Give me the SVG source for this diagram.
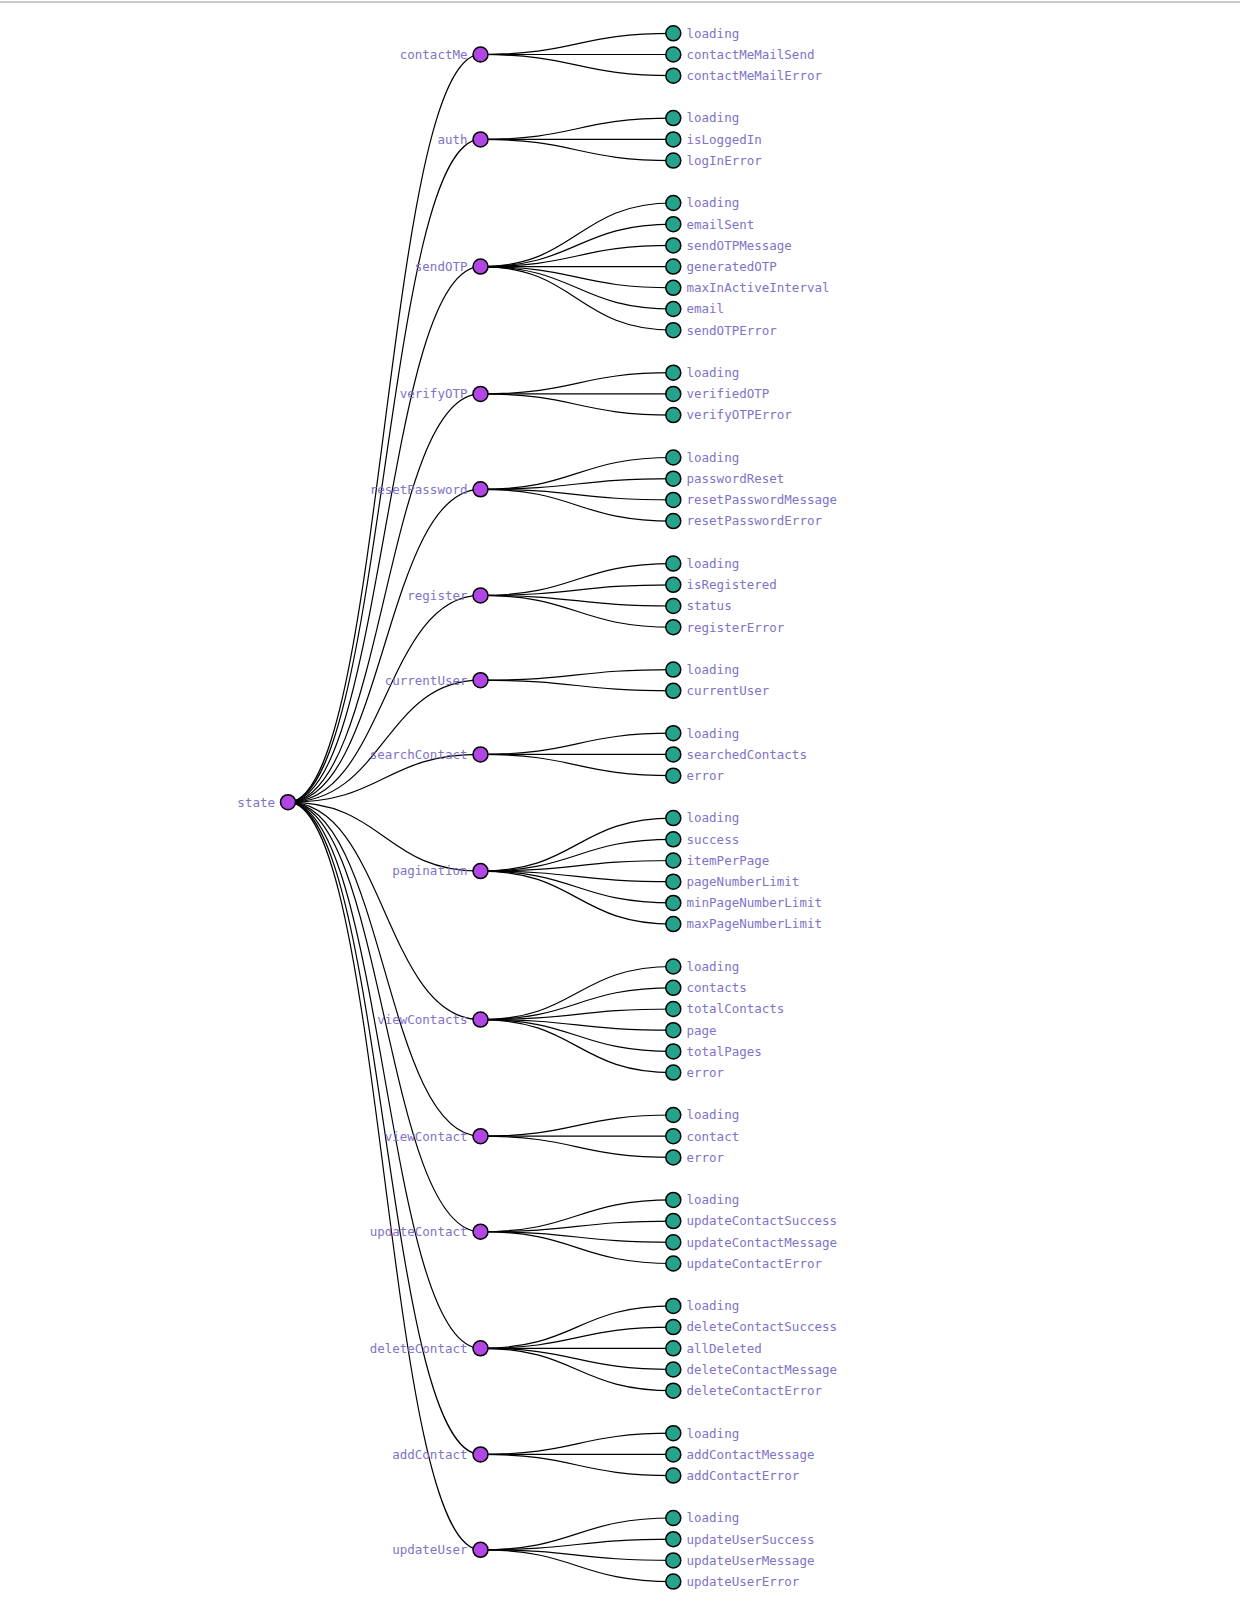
<svg xmlns="http://www.w3.org/2000/svg" width="1240" height="1621" viewBox="0 0 1240 1621">
<style>
.link{fill:none;stroke:#000;stroke-width:1.2}
.inner circle{fill:#b146e4;stroke:#000;stroke-width:1.5}
.leaf circle{fill:#26a38c;stroke:#000;stroke-width:1.5}
text{font-family:"DejaVu Sans Mono","Liberation Mono",monospace;font-size:12.5px;fill:#7f72c8}
.inner text{text-anchor:end}
</style>
<rect width="1240" height="1621" fill="#fff"/>
<rect x="0" y="1" width="1240" height="2" fill="#c8c8c8"/>
<g id="links">
<path class="link" d="M288,802.2C384.25,802.2 384.25,54.5 480.5,54.5"/>
<path class="link" d="M288,802.2C384.25,802.2 384.25,139.4 480.5,139.4"/>
<path class="link" d="M288,802.2C384.25,802.2 384.25,266.6 480.5,266.6"/>
<path class="link" d="M288,802.2C384.25,802.2 384.25,393.9 480.5,393.9"/>
<path class="link" d="M288,802.2C384.25,802.2 384.25,489.3 480.5,489.3"/>
<path class="link" d="M288,802.2C384.25,802.2 384.25,595.4 480.5,595.4"/>
<path class="link" d="M288,802.2C384.25,802.2 384.25,680.2 480.5,680.2"/>
<path class="link" d="M288,802.2C384.25,802.2 384.25,754.4 480.5,754.4"/>
<path class="link" d="M288,802.2C384.25,802.2 384.25,871.1 480.5,871.1"/>
<path class="link" d="M288,802.2C384.25,802.2 384.25,1019.6 480.5,1019.6"/>
<path class="link" d="M288,802.2C384.25,802.2 384.25,1136.2 480.5,1136.2"/>
<path class="link" d="M288,802.2C384.25,802.2 384.25,1231.7 480.5,1231.7"/>
<path class="link" d="M288,802.2C384.25,802.2 384.25,1348.3 480.5,1348.3"/>
<path class="link" d="M288,802.2C384.25,802.2 384.25,1454.4 480.5,1454.4"/>
<path class="link" d="M288,802.2C384.25,802.2 384.25,1549.8 480.5,1549.8"/>
<path class="link" d="M480.5,54.5C576.9,54.5 576.9,33.3 673.3,33.3"/>
<path class="link" d="M480.5,54.5C576.9,54.5 576.9,54.5 673.3,54.5"/>
<path class="link" d="M480.5,54.5C576.9,54.5 576.9,75.7 673.3,75.7"/>
<path class="link" d="M480.5,139.4C576.9,139.4 576.9,118.1 673.3,118.1"/>
<path class="link" d="M480.5,139.4C576.9,139.4 576.9,139.4 673.3,139.4"/>
<path class="link" d="M480.5,139.4C576.9,139.4 576.9,160.6 673.3,160.6"/>
<path class="link" d="M480.5,266.6C576.9,266.6 576.9,203 673.3,203"/>
<path class="link" d="M480.5,266.6C576.9,266.6 576.9,224.2 673.3,224.2"/>
<path class="link" d="M480.5,266.6C576.9,266.6 576.9,245.4 673.3,245.4"/>
<path class="link" d="M480.5,266.6C576.9,266.6 576.9,266.6 673.3,266.6"/>
<path class="link" d="M480.5,266.6C576.9,266.6 576.9,287.8 673.3,287.8"/>
<path class="link" d="M480.5,266.6C576.9,266.6 576.9,309 673.3,309"/>
<path class="link" d="M480.5,266.6C576.9,266.6 576.9,330.2 673.3,330.2"/>
<path class="link" d="M480.5,393.9C576.9,393.9 576.9,372.7 673.3,372.7"/>
<path class="link" d="M480.5,393.9C576.9,393.9 576.9,393.9 673.3,393.9"/>
<path class="link" d="M480.5,393.9C576.9,393.9 576.9,415.1 673.3,415.1"/>
<path class="link" d="M480.5,489.3C576.9,489.3 576.9,457.5 673.3,457.5"/>
<path class="link" d="M480.5,489.3C576.9,489.3 576.9,478.7 673.3,478.7"/>
<path class="link" d="M480.5,489.3C576.9,489.3 576.9,499.9 673.3,499.9"/>
<path class="link" d="M480.5,489.3C576.9,489.3 576.9,521.1 673.3,521.1"/>
<path class="link" d="M480.5,595.4C576.9,595.4 576.9,563.6 673.3,563.6"/>
<path class="link" d="M480.5,595.4C576.9,595.4 576.9,584.8 673.3,584.8"/>
<path class="link" d="M480.5,595.4C576.9,595.4 576.9,606 673.3,606"/>
<path class="link" d="M480.5,595.4C576.9,595.4 576.9,627.2 673.3,627.2"/>
<path class="link" d="M480.5,680.2C576.9,680.2 576.9,669.6 673.3,669.6"/>
<path class="link" d="M480.5,680.2C576.9,680.2 576.9,690.8 673.3,690.8"/>
<path class="link" d="M480.5,754.4C576.9,754.4 576.9,733.2 673.3,733.2"/>
<path class="link" d="M480.5,754.4C576.9,754.4 576.9,754.4 673.3,754.4"/>
<path class="link" d="M480.5,754.4C576.9,754.4 576.9,775.7 673.3,775.7"/>
<path class="link" d="M480.5,871.1C576.9,871.1 576.9,818.1 673.3,818.1"/>
<path class="link" d="M480.5,871.1C576.9,871.1 576.9,839.3 673.3,839.3"/>
<path class="link" d="M480.5,871.1C576.9,871.1 576.9,860.5 673.3,860.5"/>
<path class="link" d="M480.5,871.1C576.9,871.1 576.9,881.7 673.3,881.7"/>
<path class="link" d="M480.5,871.1C576.9,871.1 576.9,902.9 673.3,902.9"/>
<path class="link" d="M480.5,871.1C576.9,871.1 576.9,924.1 673.3,924.1"/>
<path class="link" d="M480.5,1019.6C576.9,1019.6 576.9,966.5 673.3,966.5"/>
<path class="link" d="M480.5,1019.6C576.9,1019.6 576.9,987.8 673.3,987.8"/>
<path class="link" d="M480.5,1019.6C576.9,1019.6 576.9,1009 673.3,1009"/>
<path class="link" d="M480.5,1019.6C576.9,1019.6 576.9,1030.2 673.3,1030.2"/>
<path class="link" d="M480.5,1019.6C576.9,1019.6 576.9,1051.4 673.3,1051.4"/>
<path class="link" d="M480.5,1019.6C576.9,1019.6 576.9,1072.6 673.3,1072.6"/>
<path class="link" d="M480.5,1136.2C576.9,1136.2 576.9,1115 673.3,1115"/>
<path class="link" d="M480.5,1136.2C576.9,1136.2 576.9,1136.2 673.3,1136.2"/>
<path class="link" d="M480.5,1136.2C576.9,1136.2 576.9,1157.4 673.3,1157.4"/>
<path class="link" d="M480.5,1231.7C576.9,1231.7 576.9,1199.9 673.3,1199.9"/>
<path class="link" d="M480.5,1231.7C576.9,1231.7 576.9,1221.1 673.3,1221.1"/>
<path class="link" d="M480.5,1231.7C576.9,1231.7 576.9,1242.3 673.3,1242.3"/>
<path class="link" d="M480.5,1231.7C576.9,1231.7 576.9,1263.5 673.3,1263.5"/>
<path class="link" d="M480.5,1348.3C576.9,1348.3 576.9,1305.9 673.3,1305.9"/>
<path class="link" d="M480.5,1348.3C576.9,1348.3 576.9,1327.1 673.3,1327.1"/>
<path class="link" d="M480.5,1348.3C576.9,1348.3 576.9,1348.3 673.3,1348.3"/>
<path class="link" d="M480.5,1348.3C576.9,1348.3 576.9,1369.5 673.3,1369.5"/>
<path class="link" d="M480.5,1348.3C576.9,1348.3 576.9,1390.7 673.3,1390.7"/>
<path class="link" d="M480.5,1454.4C576.9,1454.4 576.9,1433.2 673.3,1433.2"/>
<path class="link" d="M480.5,1454.4C576.9,1454.4 576.9,1454.4 673.3,1454.4"/>
<path class="link" d="M480.5,1454.4C576.9,1454.4 576.9,1475.6 673.3,1475.6"/>
<path class="link" d="M480.5,1549.8C576.9,1549.8 576.9,1518 673.3,1518"/>
<path class="link" d="M480.5,1549.8C576.9,1549.8 576.9,1539.2 673.3,1539.2"/>
<path class="link" d="M480.5,1549.8C576.9,1549.8 576.9,1560.4 673.3,1560.4"/>
<path class="link" d="M480.5,1549.8C576.9,1549.8 576.9,1581.6 673.3,1581.6"/>
</g>
<g id="state" class="inner"><circle cx="288" cy="802.2" r="7.5"/><text x="275" y="802.2" dy="0.35em">state</text></g>
<g id="contactMe" class="inner"><circle cx="480.5" cy="54.5" r="7.5"/><text x="467.5" y="54.5" dy="0.35em">contactMe</text></g>
<g id="auth" class="inner"><circle cx="480.5" cy="139.4" r="7.5"/><text x="467.5" y="139.4" dy="0.35em">auth</text></g>
<g id="sendOTP" class="inner"><circle cx="480.5" cy="266.6" r="7.5"/><text x="467.5" y="266.6" dy="0.35em">sendOTP</text></g>
<g id="verifyOTP" class="inner"><circle cx="480.5" cy="393.9" r="7.5"/><text x="467.5" y="393.9" dy="0.35em">verifyOTP</text></g>
<g id="resetPassword" class="inner"><circle cx="480.5" cy="489.3" r="7.5"/><text x="467.5" y="489.3" dy="0.35em">resetPassword</text></g>
<g id="register" class="inner"><circle cx="480.5" cy="595.4" r="7.5"/><text x="467.5" y="595.4" dy="0.35em">register</text></g>
<g id="currentUser" class="inner"><circle cx="480.5" cy="680.2" r="7.5"/><text x="467.5" y="680.2" dy="0.35em">currentUser</text></g>
<g id="searchContact" class="inner"><circle cx="480.5" cy="754.4" r="7.5"/><text x="467.5" y="754.4" dy="0.35em">searchContact</text></g>
<g id="pagination" class="inner"><circle cx="480.5" cy="871.1" r="7.5"/><text x="467.5" y="871.1" dy="0.35em">pagination</text></g>
<g id="viewContacts" class="inner"><circle cx="480.5" cy="1019.6" r="7.5"/><text x="467.5" y="1019.6" dy="0.35em">viewContacts</text></g>
<g id="viewContact" class="inner"><circle cx="480.5" cy="1136.2" r="7.5"/><text x="467.5" y="1136.2" dy="0.35em">viewContact</text></g>
<g id="updateContact" class="inner"><circle cx="480.5" cy="1231.7" r="7.5"/><text x="467.5" y="1231.7" dy="0.35em">updateContact</text></g>
<g id="deleteContact" class="inner"><circle cx="480.5" cy="1348.3" r="7.5"/><text x="467.5" y="1348.3" dy="0.35em">deleteContact</text></g>
<g id="addContact" class="inner"><circle cx="480.5" cy="1454.4" r="7.5"/><text x="467.5" y="1454.4" dy="0.35em">addContact</text></g>
<g id="updateUser" class="inner"><circle cx="480.5" cy="1549.8" r="7.5"/><text x="467.5" y="1549.8" dy="0.35em">updateUser</text></g>
<g id="contactMe-loading" class="leaf"><circle cx="673.3" cy="33.3" r="7.5"/><text x="686.5" y="33.3" dy="0.35em">loading</text></g>
<g id="contactMe-contactMeMailSend" class="leaf"><circle cx="673.3" cy="54.5" r="7.5"/><text x="686.5" y="54.5" dy="0.35em">contactMeMailSend</text></g>
<g id="contactMe-contactMeMailError" class="leaf"><circle cx="673.3" cy="75.7" r="7.5"/><text x="686.5" y="75.7" dy="0.35em">contactMeMailError</text></g>
<g id="auth-loading" class="leaf"><circle cx="673.3" cy="118.1" r="7.5"/><text x="686.5" y="118.1" dy="0.35em">loading</text></g>
<g id="auth-isLoggedIn" class="leaf"><circle cx="673.3" cy="139.4" r="7.5"/><text x="686.5" y="139.4" dy="0.35em">isLoggedIn</text></g>
<g id="auth-logInError" class="leaf"><circle cx="673.3" cy="160.6" r="7.5"/><text x="686.5" y="160.6" dy="0.35em">logInError</text></g>
<g id="sendOTP-loading" class="leaf"><circle cx="673.3" cy="203" r="7.5"/><text x="686.5" y="203" dy="0.35em">loading</text></g>
<g id="sendOTP-emailSent" class="leaf"><circle cx="673.3" cy="224.2" r="7.5"/><text x="686.5" y="224.2" dy="0.35em">emailSent</text></g>
<g id="sendOTP-sendOTPMessage" class="leaf"><circle cx="673.3" cy="245.4" r="7.5"/><text x="686.5" y="245.4" dy="0.35em">sendOTPMessage</text></g>
<g id="sendOTP-generatedOTP" class="leaf"><circle cx="673.3" cy="266.6" r="7.5"/><text x="686.5" y="266.6" dy="0.35em">generatedOTP</text></g>
<g id="sendOTP-maxInActiveInterval" class="leaf"><circle cx="673.3" cy="287.8" r="7.5"/><text x="686.5" y="287.8" dy="0.35em">maxInActiveInterval</text></g>
<g id="sendOTP-email" class="leaf"><circle cx="673.3" cy="309" r="7.5"/><text x="686.5" y="309" dy="0.35em">email</text></g>
<g id="sendOTP-sendOTPError" class="leaf"><circle cx="673.3" cy="330.2" r="7.5"/><text x="686.5" y="330.2" dy="0.35em">sendOTPError</text></g>
<g id="verifyOTP-loading" class="leaf"><circle cx="673.3" cy="372.7" r="7.5"/><text x="686.5" y="372.7" dy="0.35em">loading</text></g>
<g id="verifyOTP-verifiedOTP" class="leaf"><circle cx="673.3" cy="393.9" r="7.5"/><text x="686.5" y="393.9" dy="0.35em">verifiedOTP</text></g>
<g id="verifyOTP-verifyOTPError" class="leaf"><circle cx="673.3" cy="415.1" r="7.5"/><text x="686.5" y="415.1" dy="0.35em">verifyOTPError</text></g>
<g id="resetPassword-loading" class="leaf"><circle cx="673.3" cy="457.5" r="7.5"/><text x="686.5" y="457.5" dy="0.35em">loading</text></g>
<g id="resetPassword-passwordReset" class="leaf"><circle cx="673.3" cy="478.7" r="7.5"/><text x="686.5" y="478.7" dy="0.35em">passwordReset</text></g>
<g id="resetPassword-resetPasswordMessage" class="leaf"><circle cx="673.3" cy="499.9" r="7.5"/><text x="686.5" y="499.9" dy="0.35em">resetPasswordMessage</text></g>
<g id="resetPassword-resetPasswordError" class="leaf"><circle cx="673.3" cy="521.1" r="7.5"/><text x="686.5" y="521.1" dy="0.35em">resetPasswordError</text></g>
<g id="register-loading" class="leaf"><circle cx="673.3" cy="563.6" r="7.5"/><text x="686.5" y="563.6" dy="0.35em">loading</text></g>
<g id="register-isRegistered" class="leaf"><circle cx="673.3" cy="584.8" r="7.5"/><text x="686.5" y="584.8" dy="0.35em">isRegistered</text></g>
<g id="register-status" class="leaf"><circle cx="673.3" cy="606" r="7.5"/><text x="686.5" y="606" dy="0.35em">status</text></g>
<g id="register-registerError" class="leaf"><circle cx="673.3" cy="627.2" r="7.5"/><text x="686.5" y="627.2" dy="0.35em">registerError</text></g>
<g id="currentUser-loading" class="leaf"><circle cx="673.3" cy="669.6" r="7.5"/><text x="686.5" y="669.6" dy="0.35em">loading</text></g>
<g id="currentUser-currentUser" class="leaf"><circle cx="673.3" cy="690.8" r="7.5"/><text x="686.5" y="690.8" dy="0.35em">currentUser</text></g>
<g id="searchContact-loading" class="leaf"><circle cx="673.3" cy="733.2" r="7.5"/><text x="686.5" y="733.2" dy="0.35em">loading</text></g>
<g id="searchContact-searchedContacts" class="leaf"><circle cx="673.3" cy="754.4" r="7.5"/><text x="686.5" y="754.4" dy="0.35em">searchedContacts</text></g>
<g id="searchContact-error" class="leaf"><circle cx="673.3" cy="775.7" r="7.5"/><text x="686.5" y="775.7" dy="0.35em">error</text></g>
<g id="pagination-loading" class="leaf"><circle cx="673.3" cy="818.1" r="7.5"/><text x="686.5" y="818.1" dy="0.35em">loading</text></g>
<g id="pagination-success" class="leaf"><circle cx="673.3" cy="839.3" r="7.5"/><text x="686.5" y="839.3" dy="0.35em">success</text></g>
<g id="pagination-itemPerPage" class="leaf"><circle cx="673.3" cy="860.5" r="7.5"/><text x="686.5" y="860.5" dy="0.35em">itemPerPage</text></g>
<g id="pagination-pageNumberLimit" class="leaf"><circle cx="673.3" cy="881.7" r="7.5"/><text x="686.5" y="881.7" dy="0.35em">pageNumberLimit</text></g>
<g id="pagination-minPageNumberLimit" class="leaf"><circle cx="673.3" cy="902.9" r="7.5"/><text x="686.5" y="902.9" dy="0.35em">minPageNumberLimit</text></g>
<g id="pagination-maxPageNumberLimit" class="leaf"><circle cx="673.3" cy="924.1" r="7.5"/><text x="686.5" y="924.1" dy="0.35em">maxPageNumberLimit</text></g>
<g id="viewContacts-loading" class="leaf"><circle cx="673.3" cy="966.5" r="7.5"/><text x="686.5" y="966.5" dy="0.35em">loading</text></g>
<g id="viewContacts-contacts" class="leaf"><circle cx="673.3" cy="987.8" r="7.5"/><text x="686.5" y="987.8" dy="0.35em">contacts</text></g>
<g id="viewContacts-totalContacts" class="leaf"><circle cx="673.3" cy="1009" r="7.5"/><text x="686.5" y="1009" dy="0.35em">totalContacts</text></g>
<g id="viewContacts-page" class="leaf"><circle cx="673.3" cy="1030.2" r="7.5"/><text x="686.5" y="1030.2" dy="0.35em">page</text></g>
<g id="viewContacts-totalPages" class="leaf"><circle cx="673.3" cy="1051.4" r="7.5"/><text x="686.5" y="1051.4" dy="0.35em">totalPages</text></g>
<g id="viewContacts-error" class="leaf"><circle cx="673.3" cy="1072.6" r="7.5"/><text x="686.5" y="1072.6" dy="0.35em">error</text></g>
<g id="viewContact-loading" class="leaf"><circle cx="673.3" cy="1115" r="7.5"/><text x="686.5" y="1115" dy="0.35em">loading</text></g>
<g id="viewContact-contact" class="leaf"><circle cx="673.3" cy="1136.2" r="7.5"/><text x="686.5" y="1136.2" dy="0.35em">contact</text></g>
<g id="viewContact-error" class="leaf"><circle cx="673.3" cy="1157.4" r="7.5"/><text x="686.5" y="1157.4" dy="0.35em">error</text></g>
<g id="updateContact-loading" class="leaf"><circle cx="673.3" cy="1199.9" r="7.5"/><text x="686.5" y="1199.9" dy="0.35em">loading</text></g>
<g id="updateContact-updateContactSuccess" class="leaf"><circle cx="673.3" cy="1221.1" r="7.5"/><text x="686.5" y="1221.1" dy="0.35em">updateContactSuccess</text></g>
<g id="updateContact-updateContactMessage" class="leaf"><circle cx="673.3" cy="1242.3" r="7.5"/><text x="686.5" y="1242.3" dy="0.35em">updateContactMessage</text></g>
<g id="updateContact-updateContactError" class="leaf"><circle cx="673.3" cy="1263.5" r="7.5"/><text x="686.5" y="1263.5" dy="0.35em">updateContactError</text></g>
<g id="deleteContact-loading" class="leaf"><circle cx="673.3" cy="1305.9" r="7.5"/><text x="686.5" y="1305.9" dy="0.35em">loading</text></g>
<g id="deleteContact-deleteContactSuccess" class="leaf"><circle cx="673.3" cy="1327.1" r="7.5"/><text x="686.5" y="1327.1" dy="0.35em">deleteContactSuccess</text></g>
<g id="deleteContact-allDeleted" class="leaf"><circle cx="673.3" cy="1348.3" r="7.5"/><text x="686.5" y="1348.3" dy="0.35em">allDeleted</text></g>
<g id="deleteContact-deleteContactMessage" class="leaf"><circle cx="673.3" cy="1369.5" r="7.5"/><text x="686.5" y="1369.5" dy="0.35em">deleteContactMessage</text></g>
<g id="deleteContact-deleteContactError" class="leaf"><circle cx="673.3" cy="1390.7" r="7.5"/><text x="686.5" y="1390.7" dy="0.35em">deleteContactError</text></g>
<g id="addContact-loading" class="leaf"><circle cx="673.3" cy="1433.2" r="7.5"/><text x="686.5" y="1433.2" dy="0.35em">loading</text></g>
<g id="addContact-addContactMessage" class="leaf"><circle cx="673.3" cy="1454.4" r="7.5"/><text x="686.5" y="1454.4" dy="0.35em">addContactMessage</text></g>
<g id="addContact-addContactError" class="leaf"><circle cx="673.3" cy="1475.6" r="7.5"/><text x="686.5" y="1475.6" dy="0.35em">addContactError</text></g>
<g id="updateUser-loading" class="leaf"><circle cx="673.3" cy="1518" r="7.5"/><text x="686.5" y="1518" dy="0.35em">loading</text></g>
<g id="updateUser-updateUserSuccess" class="leaf"><circle cx="673.3" cy="1539.2" r="7.5"/><text x="686.5" y="1539.2" dy="0.35em">updateUserSuccess</text></g>
<g id="updateUser-updateUserMessage" class="leaf"><circle cx="673.3" cy="1560.4" r="7.5"/><text x="686.5" y="1560.4" dy="0.35em">updateUserMessage</text></g>
<g id="updateUser-updateUserError" class="leaf"><circle cx="673.3" cy="1581.6" r="7.5"/><text x="686.5" y="1581.6" dy="0.35em">updateUserError</text></g>
</svg>
